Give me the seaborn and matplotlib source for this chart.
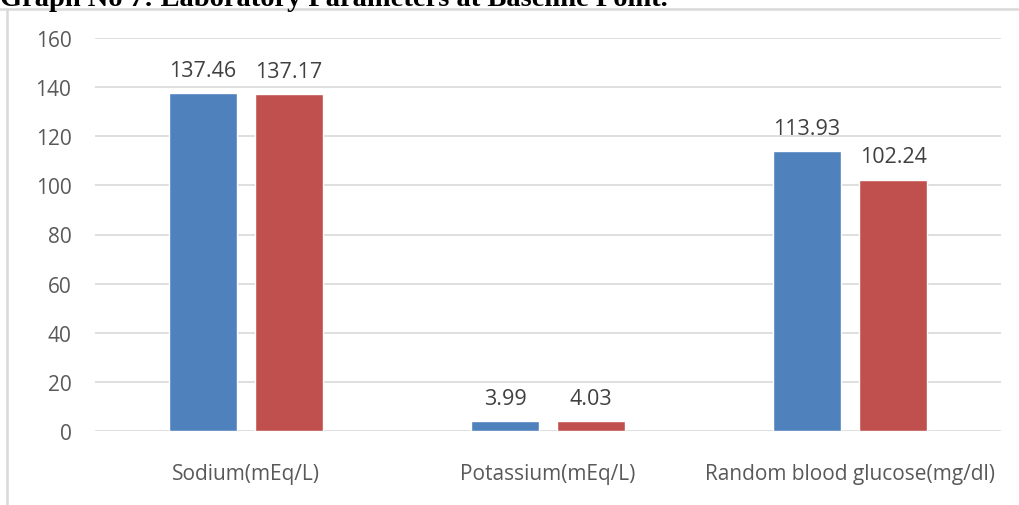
import matplotlib
matplotlib.use("Agg")
import matplotlib.pyplot as plt
import seaborn as sns
import pandas as pd
from matplotlib.lines import Line2D

# Laboratory parameters at baseline, two study groups
parameters = ["Sodium(mEq/L)", "Potassium(mEq/L)", "Random blood glucose(mg/dl)"]
group_a = [137.46, 3.99, 113.93]
group_b = [137.17, 4.03, 102.24]
groups = ["Group A", "Group B"]
y_ticks = [0, 20, 40, 60, 80, 100, 120, 140, 160]

df = pd.DataFrame({
    "parameter": parameters * 2,
    "value": group_a + group_b,
    "group": [groups[0]] * 3 + [groups[1]] * 3,
})

sns.set_style("white")
plt.rcParams["font.family"] = ["Open Sans", "DejaVu Sans"]

fig = plt.figure(figsize=(10.19, 5.06), dpi=100)
ax = fig.add_axes([95 / 1019, 74 / 506, 906 / 1019, 393 / 506])

sns.barplot(data=df, x="parameter", y="value", hue="group",
            palette=["#4F81BD", "#C0504D"], saturation=1, width=0.57, gap=0.21,
            legend=False, ax=ax, zorder=3)

for cont in ax.containers:
    ax.bar_label(cont, labels=[f"{v:.2f}" for v in cont.datavalues],
                 padding=9, fontsize=15.5, color="#404040")

ax.set_ylim(0, 160)
ax.set_yticks(y_ticks)
ax.set_xlim(-0.5, 2.5)
ax.grid(axis="y", color="#d9d9d9", linewidth=1.2, zorder=0)
ax.set_axisbelow(True)
for s in ax.spines.values():
    s.set_visible(False)
ax.tick_params(axis="y", length=0, pad=17, labelsize=15, labelcolor="#595959")
ax.tick_params(axis="x", length=0, pad=23, labelsize=15, labelcolor="#595959")
ax.set_xlabel("")
ax.set_ylabel("")

# Chart frame (top and left edges)
fig.add_artist(Line2D([0, 1], [1 - 9.5 / 506, 1 - 9.5 / 506],
                      transform=fig.transFigure, color="#d9d9d9", linewidth=1.8))
fig.add_artist(Line2D([6.5 / 1019, 6.5 / 1019], [0, 1 - 9.5 / 506],
                      transform=fig.transFigure, color="#d9d9d9", linewidth=1.8))

# Caption above the chart
fig.text(0.0, 1 - 6.5 / 506, "Graph No 7: Laboratory Parameters at Baseline Point.",
         family="Liberation Serif", fontweight="bold", fontsize=20.5,
         color="black", ha="left", va="baseline")

fig.savefig("out.png", dpi=100)
